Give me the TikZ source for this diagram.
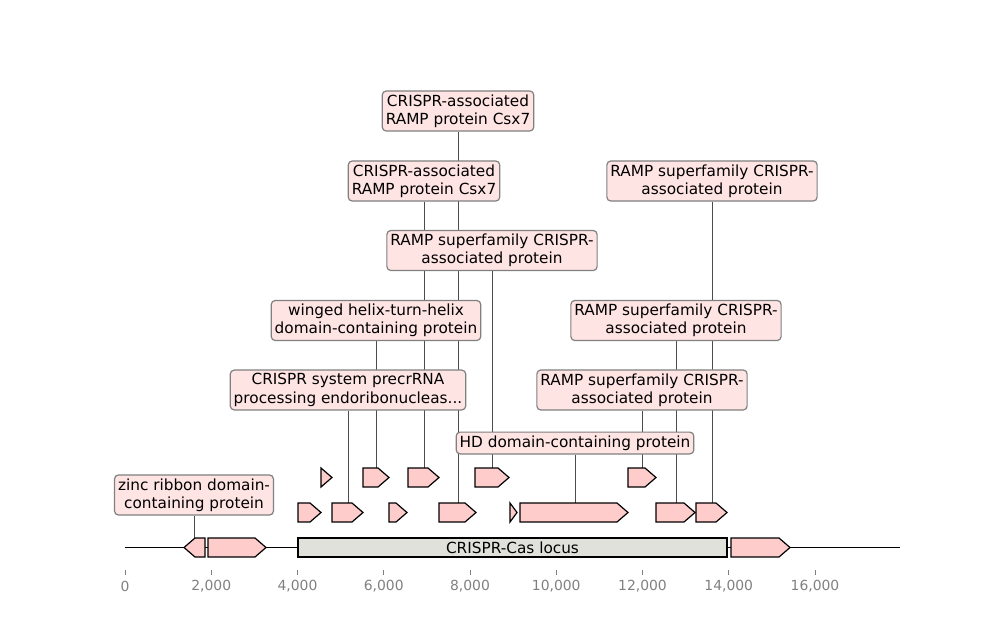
\documentclass[tikz,border=0pt]{standalone}
\usepackage{fontspec}
\setmainfont{DejaVu Sans}
\usepackage{xcolor}
\usepackage{tikz}
\usetikzlibrary{backgrounds}

\definecolor{featfill}{HTML}{FFCCCC}
\definecolor{boxfill}{HTML}{FFE4E4}
\definecolor{locusfill}{HTML}{E1E1DB}

\tikzset{
  lab/.style={draw=gray, fill=boxfill, rounded corners=4pt, align=center, inner sep=3.5pt, line width=1.2pt, font=\fontsize{15.3}{18.3}\selectfont},
  leader/.style={draw=black!70, line width=0.9pt},
  feat/.style={fill=featfill, draw=black, line width=1.2pt},
  ticklab/.style={text=gray, font=\fontsize{13.9}{16}\selectfont}
}

% forward gene: name, start, end, y
\newcommand{\fwdgene}[4]{%
  \pgfmathsetmacro{\hd}{min(11,#3-#2)}
  \filldraw[feat] (#2,#4-9.5) -- (#3-\hd,#4-9.5) -- (#3,#4) -- (#3-\hd,#4+9.5) -- (#2,#4+9.5) -- cycle;
  \coordinate (#1) at ({(#2+#3)/2},#4-9.5);}
% reverse gene: name, start, end, y
\newcommand{\revgene}[4]{%
  \pgfmathsetmacro{\hd}{min(11,#3-#2)}
  \filldraw[feat] (#2,#4) -- (#2+\hd,#4-9.5) -- (#3,#4-9.5) -- (#3,#4+9.5) -- (#2+\hd,#4+9.5) -- cycle;
  \coordinate (#1) at ({(#2+#3)/2},#4-9.5);}

\begin{document}
\begin{tikzpicture}[x=1pt, y=-1pt]
  \useasboundingbox (0,0) rectangle (1000,640);

  % sequence line
  \coordinate (seqstart) at (125,547.5);
  \coordinate (seqend) at (900,547.5);
  \draw[line width=1.8pt] (seqstart) -- (seqend);

  % genes on the sequence line
  \revgene{g1}{184}{205}{547.5}
  \fwdgene{g2}{208}{266}{547.5}
  \filldraw[feat, fill=locusfill] (298,538) rectangle (727,557);
  \node[font=\fontsize{15.3}{18}\selectfont] (locus) at (512.5,547.5) {CRISPR-Cas locus};
  \fwdgene{g3}{731}{790}{547.5}

  % first row
  \fwdgene{a1}{298}{321}{512.5}
  \fwdgene{a2}{332}{363}{512.5}
  \fwdgene{a3}{389}{407}{512.5}
  \fwdgene{a4}{439}{476}{512.5}
  \fwdgene{a5}{510}{517}{512.5}
  \fwdgene{a6}{520}{628}{512.5}
  \fwdgene{a7}{656}{695}{512.5}
  \fwdgene{a8}{696}{727}{512.5}

  % second row
  \fwdgene{b1}{321}{332}{477.5}
  \fwdgene{b2}{363}{389}{477.5}
  \fwdgene{b3}{408}{439}{477.5}
  \fwdgene{b4}{475}{509}{477.5}
  \fwdgene{b5}{628}{656}{477.5}

  % labels
  \node[lab] (zinc) at (194,495) {zinc ribbon domain-\\containing protein};
  \node[lab] (precr) at (348,390) {CRISPR system precrRNA\\processing endoribonucleas...};
  \node[lab] (whth) at (376,320.5) {winged helix-turn-helix\\domain-containing protein};
  \node[lab] (csxb) at (424,181) {CRISPR-associated\\RAMP protein Csx7};
  \node[lab] (csxa) at (458,111) {CRISPR-associated\\RAMP protein Csx7};
  \node[lab] (rampa) at (492,250.5) {RAMP superfamily CRISPR-\\associated protein};
  \node[lab] (hd) at (575,443) {HD domain-containing protein};
  \node[lab] (rampb) at (642,390) {RAMP superfamily CRISPR-\\associated protein};
  \node[lab] (rampc) at (676,320.5) {RAMP superfamily CRISPR-\\associated protein};
  \node[lab] (rampd) at (712,181) {RAMP superfamily CRISPR-\\associated protein};

  \begin{scope}[on background layer]
    \draw[leader] (zinc) -- (zinc |- g1);
    \draw[leader] (precr) -- (precr |- a2);
    \draw[leader] (whth) -- (whth |- b2);
    \draw[leader] (csxb) -- (csxb |- b3);
    \draw[leader] (csxa) -- (csxa |- a4);
    \draw[leader] (rampa) -- (rampa |- b4);
    \draw[leader] (hd) -- (hd |- a6);
    \draw[leader] (rampb) -- (rampb |- b5);
    \draw[leader] (rampc) -- (rampc |- a7);
    \draw[leader] (rampd) -- (rampd |- a8);
  \end{scope}

  % axis ticks
  \foreach \k/\t in {0/0, 1/{2,000}, 2/{4,000}, 3/{6,000}, 4/{8,000}, 5/{10,000}, 6/{12,000}, 7/{14,000}, 8/{16,000}}{
    \draw[gray, line width=0.8pt] (125+86.25*\k,570) -- (125+86.25*\k,575);
    \node[ticklab] (t\k) at (125+86.25*\k,586) {\t};
  }
\end{tikzpicture}
\end{document}
